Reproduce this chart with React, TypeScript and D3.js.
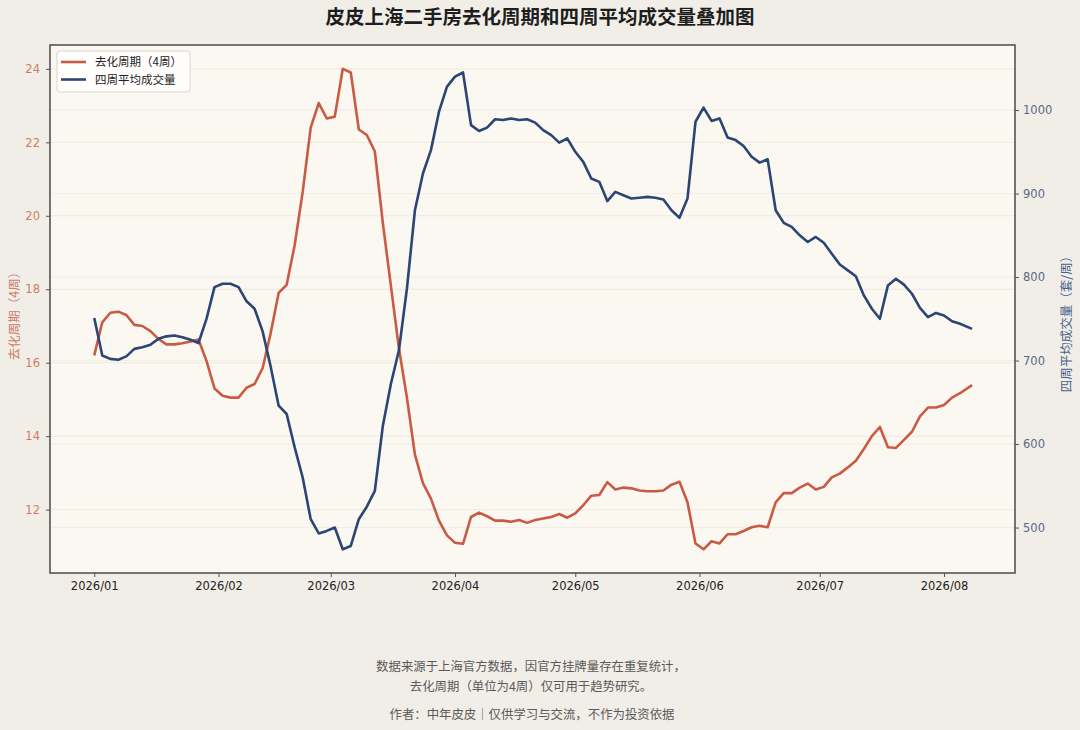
import React, { useEffect, useRef } from 'react';
import * as d3 from 'd3';

// 日期（2026年，每两天取一个点）
const dates = [
    "01-01", "01-03", "01-05", "01-07", "01-09", "01-11", "01-13", "01-15", "01-17", "01-19", "01-21", "01-23", "01-25", "01-27", "01-29", "01-31",
    "02-02", "02-04", "02-06", "02-08", "02-10", "02-12", "02-14", "02-16", "02-18", "02-20", "02-22", "02-24", "02-26", "02-28",
    "03-02", "03-04", "03-06", "03-08", "03-10", "03-12", "03-14", "03-16", "03-18", "03-20", "03-22", "03-24", "03-26", "03-28", "03-30",
    "04-01", "04-03", "04-05", "04-07", "04-09", "04-11", "04-13", "04-15", "04-17", "04-19", "04-21", "04-23", "04-25", "04-27", "04-29",
    "05-01", "05-03", "05-05", "05-07", "05-09", "05-11", "05-13", "05-15", "05-17", "05-19", "05-21", "05-23", "05-25", "05-27", "05-29", "05-31",
    "06-02", "06-04", "06-06", "06-08", "06-10", "06-12", "06-14", "06-16", "06-18", "06-20", "06-22", "06-24", "06-26", "06-28", "06-30",
    "07-02", "07-04", "07-06", "07-08", "07-10", "07-12", "07-14", "07-16", "07-18", "07-20", "07-22", "07-24", "07-26", "07-28", "07-30",
    "08-01", "08-03", "08-05", "08-08",
];

// 去化周期（4周）
const cycleValues = [
    16.2, 17.1, 17.36, 17.39, 17.3, 17.03, 17.0, 16.86, 16.65, 16.5,
    16.5, 16.53, 16.58, 16.63, 16.05, 15.3, 15.1, 15.05, 15.05, 15.32,
    15.42, 15.85, 16.8, 17.9, 18.12, 19.2, 20.65, 22.4, 23.07, 22.65,
    22.7, 24.0, 23.9, 22.35, 22.2, 21.75, 19.8, 18.1, 16.4, 15.05,
    13.5, 12.72, 12.3, 11.7, 11.3, 11.1, 11.07, 11.8, 11.92, 11.82,
    11.7, 11.7, 11.67, 11.72, 11.64, 11.72, 11.76, 11.8, 11.88, 11.78,
    11.9, 12.12, 12.38, 12.4, 12.75, 12.55, 12.6, 12.58, 12.52, 12.5,
    12.5, 12.52, 12.68, 12.76, 12.2, 11.08, 10.92, 11.14, 11.08, 11.33,
    11.33, 11.42, 11.52, 11.56, 11.52, 12.2, 12.45, 12.45, 12.6, 12.71,
    12.55, 12.62, 12.88, 12.98, 13.15, 13.33, 13.65, 14.0, 14.25, 13.7,
    13.68, 13.9, 14.12, 14.54, 14.78, 14.78, 14.85, 15.05, 15.17, 15.39,
];

// 四周平均成交量（套/周）
const volumeValues = [
    751, 706, 702, 701, 705, 714, 716, 719, 726, 729,
    730, 728, 725, 721, 750, 788, 792, 792, 788, 771,
    762, 735, 693, 646, 636, 596, 560, 510, 493, 496,
    500, 474, 478, 510, 525, 544, 622, 672, 712, 786,
    880, 924, 952, 998, 1028, 1040, 1045, 982, 975, 979,
    989, 988, 990, 988, 989, 985, 976, 970, 961, 966,
    950, 938, 918, 914, 891, 902, 898, 894, 895, 896,
    895, 893, 880, 871, 894, 986, 1003, 987, 990, 967,
    964, 957, 944, 937, 941, 880, 865, 860, 850, 842,
    848, 841, 828, 815, 808, 801, 778, 762, 750, 790,
    798, 791, 780, 763, 752, 757, 754, 747, 744, 738,
];

const leftTicks = [12, 14, 16, 18, 20, 22, 24];
const rightTicks = [500, 600, 700, 800, 900, 1000];
const monthTicks = ["2026-01-01", "2026-02-01", "2026-03-01", "2026-04-01", "2026-05-01", "2026-06-01", "2026-07-01", "2026-08-01"];

const footerLines = [
    "数据来源于上海官方数据，因官方挂牌量存在重复统计，",
    "去化周期（单位为4周）仅可用于趋势研究。",
];
const authorLine = "作者：中年皮皮｜仅供学习与交流，不作为投资依据";

const RED = '#c95b44';
const BLUE = '#2d4574';
const FONT = "'DejaVu Sans', 'Noto Sans CJK SC', sans-serif";
const CJK = "'Noto Sans CJK SC', 'DejaVu Sans', sans-serif";

const App = () => {
    const svgRef = useRef(null);

    useEffect(() => {
        document.body.style.margin = '0';
        const svg = d3.select(svgRef.current);
        svg.selectAll('*').remove();

        const width = 1080;
        const height = 730;
        const margin = { top: 45, right: 65, bottom: 157, left: 50 };
        const innerWidth = width - margin.left - margin.right;
        const innerHeight = height - margin.top - margin.bottom;

        const parse = (s: string) => new Date(`2026-${s}T00:00:00`);
        const xDates = dates.map(parse);

        const xScale = d3.scaleTime()
            .domain([new Date(2025, 11, 20, 23), new Date(2026, 7, 18, 17)])
            .range([0, innerWidth]);
        const yLeft = d3.scaleLinear().domain([10.275, 24.65]).range([innerHeight, 0]);
        const yRight = d3.scaleLinear().domain([445.6, 1077.9]).range([innerHeight, 0]);

        svg.append('rect').attr('width', width).attr('height', height).attr('fill', '#f1eee7');

        // 标题
        svg.append('text')
            .attr('x', 540).attr('y', 24)
            .attr('text-anchor', 'middle')
            .attr('font-family', CJK)
            .attr('font-weight', 'bold')
            .attr('font-size', 19.5)
            .attr('fill', '#1e1e1e')
            .text('皮皮上海二手房去化周期和四周平均成交量叠加图');

        const g = svg.append('g').attr('transform', `translate(${margin.left},${margin.top})`);

        g.append('rect').attr('width', innerWidth).attr('height', innerHeight).attr('fill', '#faf8f1');

        // 网格线（左右两轴）
        g.append('g').selectAll('line').data(leftTicks).join('line')
            .attr('x1', 0).attr('x2', innerWidth)
            .attr('y1', d => yLeft(d)).attr('y2', d => yLeft(d))
            .attr('stroke', '#ebe6dc').attr('stroke-width', 0.8);
        g.append('g').selectAll('line').data(rightTicks).join('line')
            .attr('x1', 0).attr('x2', innerWidth)
            .attr('y1', d => yRight(d)).attr('y2', d => yRight(d))
            .attr('stroke', '#efebe2').attr('stroke-width', 0.8);

        const line = (scale) => d3.line<number>()
            .x((_, i) => xScale(xDates[i]))
            .y(d => scale(d));

        g.append('path')
            .datum(cycleValues)
            .attr('fill', 'none')
            .attr('stroke', RED)
            .attr('stroke-width', 2.6)
            .attr('stroke-linejoin', 'round')
            .attr('d', line(yLeft));

        g.append('path')
            .datum(volumeValues)
            .attr('fill', 'none')
            .attr('stroke', BLUE)
            .attr('stroke-width', 2.6)
            .attr('stroke-linejoin', 'round')
            .attr('d', line(yRight));

        // 坐标轴
        const leftAxis = g.append('g')
            .call(d3.axisLeft(yLeft).tickValues(leftTicks).tickSize(4).tickPadding(6).tickFormat(d3.format('d')));
        leftAxis.select('.domain').remove();
        leftAxis.selectAll('line').attr('stroke', '#555');
        leftAxis.selectAll('text').attr('fill', '#cf7b66').attr('font-size', 11.5).attr('font-family', FONT);

        const rightAxis = g.append('g')
            .attr('transform', `translate(${innerWidth},0)`)
            .call(d3.axisRight(yRight).tickValues(rightTicks).tickSize(4).tickPadding(4).tickFormat(d3.format('d')));
        rightAxis.select('.domain').remove();
        rightAxis.selectAll('line').attr('stroke', '#555');
        rightAxis.selectAll('text').attr('fill', '#5a6888').attr('font-size', 11.5).attr('font-family', FONT);

        const bottomAxis = g.append('g')
            .attr('transform', `translate(0,${innerHeight})`)
            .call(d3.axisBottom(xScale).tickValues(monthTicks.map(s => new Date(`${s}T00:00:00`))).tickSize(4).tickPadding(5).tickFormat(d3.timeFormat('%Y/%m')));
        bottomAxis.select('.domain').remove();
        bottomAxis.selectAll('line').attr('stroke', '#555');
        bottomAxis.selectAll('text').attr('fill', '#222').attr('font-size', 11.5).attr('font-family', FONT);

        // 边框
        g.append('rect')
            .attr('width', innerWidth).attr('height', innerHeight)
            .attr('fill', 'none').attr('stroke', '#4a4a4a').attr('stroke-width', 1.5);

        // 轴标题
        svg.append('text')
            .attr('transform', `translate(19,${margin.top + innerHeight / 2 + 4}) rotate(-90)`)
            .attr('text-anchor', 'middle')
            .attr('font-family', CJK).attr('font-size', 12.5)
            .attr('fill', '#cf7b66')
            .text('去化周期（4周）');

        svg.append('text')
            .attr('transform', `translate(1071,${margin.top + innerHeight / 2 + 12}) rotate(-90)`)
            .attr('text-anchor', 'middle')
            .attr('font-family', CJK).attr('font-size', 12.5)
            .attr('fill', '#4a5f8c')
            .text('四周平均成交量（套/周）');

        // 图例
        const legend = g.append('g').attr('transform', 'translate(7,6)');
        legend.append('rect')
            .attr('width', 133).attr('height', 41).attr('rx', 3)
            .attr('fill', '#ffffff').attr('fill-opacity', 0.85)
            .attr('stroke', '#d8d5cf');
        [{ label: '去化周期（4周）', color: RED }, { label: '四周平均成交量', color: BLUE }].forEach((item, i) => {
            const yy = 11 + i * 17.5;
            legend.append('line')
                .attr('x1', 4).attr('x2', 29).attr('y1', yy).attr('y2', yy)
                .attr('stroke', item.color).attr('stroke-width', 2.6);
            legend.append('text')
                .attr('x', 38).attr('y', yy + 4)
                .attr('font-family', CJK).attr('font-size', 11.5)
                .attr('fill', '#222')
                .text(item.label);
        });

        // 页脚说明
        footerLines.forEach((t, i) => {
            svg.append('text')
                .attr('x', 531).attr('y', 671 + i * 19.5)
                .attr('text-anchor', 'middle')
                .attr('font-family', CJK).attr('font-size', 12.4)
                .attr('fill', '#5a5a5a')
                .text(t);
        });
        svg.append('text')
            .attr('x', 532).attr('y', 719)
            .attr('text-anchor', 'middle')
            .attr('font-family', CJK).attr('font-size', 12.4)
            .attr('fill', '#5a5a5a')
            .text(authorLine);
    }, []);

    return <svg ref={svgRef} width={1080} height={730} style={{ display: 'block' }} />;
};

export default App;
